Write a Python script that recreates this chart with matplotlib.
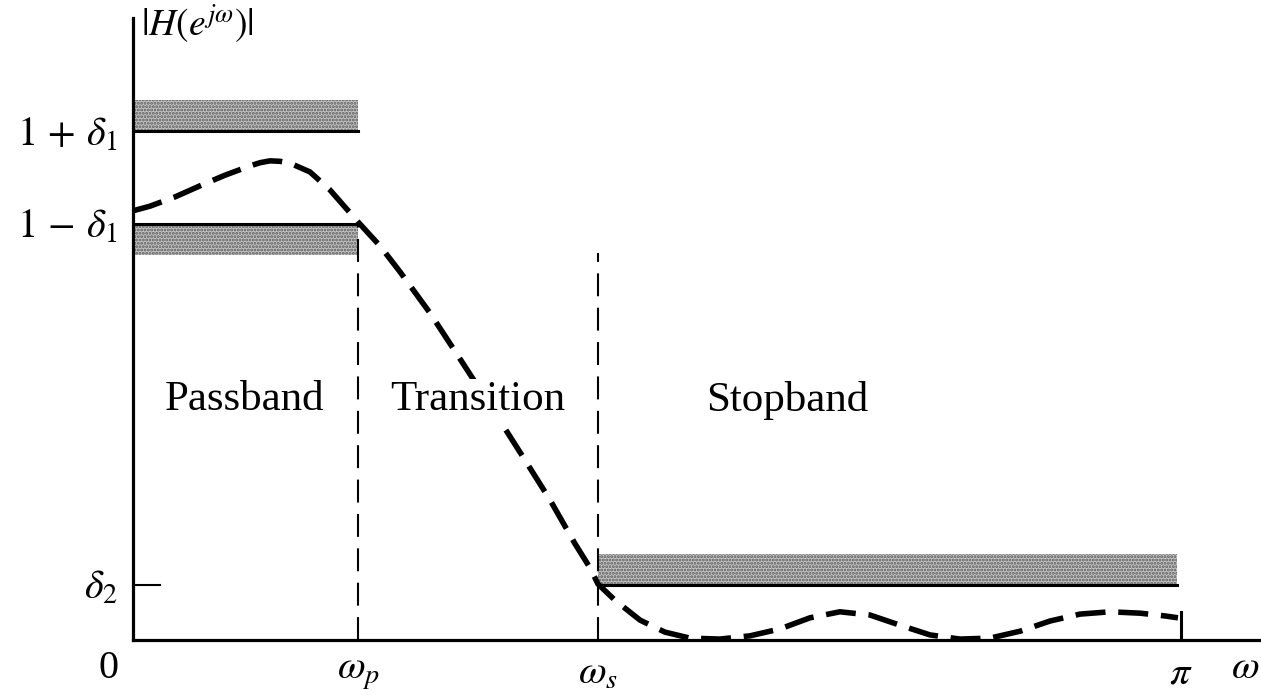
import numpy as np
import matplotlib
matplotlib.use("Agg")
import matplotlib.pyplot as plt

plt.rcParams['mathtext.fontset'] = 'stix'
plt.rcParams['font.family'] = ['Liberation Serif', 'DejaVu Serif']
plt.rcParams['hatch.linewidth'] = 1.4

# ---- data (frequencies in units of pi) ----
delta1 = 0.10
delta2 = 0.12
omega_p = 0.2147
omega_s = 0.4437
band_h = 0.067

w_curve = [0.0, 0.0162, 0.0401, 0.0639, 0.0878, 0.1116, 0.1212, 0.1307, 0.1403, 0.1498, 0.1689,
           0.1880, 0.2023, 0.2147, 0.2357, 0.2548, 0.2834, 0.3120, 0.3406, 0.3693,
           0.3979, 0.4218, 0.4361, 0.4437, 0.4599, 0.4838, 0.5076, 0.5315, 0.5601,
           0.5887, 0.6174, 0.6460, 0.6746, 0.7032, 0.7319, 0.7605, 0.7891, 0.8177,
           0.8464, 0.8750, 0.9036, 0.9323, 0.9609, 0.9847, 0.9971]
mag_curve = [0.928, 0.938, 0.958, 0.982, 1.005, 1.025, 1.032, 1.036, 1.035, 1.031, 1.012,
             0.973, 0.936, 0.904, 0.852, 0.796, 0.707, 0.608, 0.508, 0.406,
             0.303, 0.208, 0.156, 0.121, 0.086, 0.043, 0.017, 0.004, 0.002,
             0.009, 0.024, 0.048, 0.061, 0.054, 0.032, 0.011, 0.002, 0.004,
             0.019, 0.041, 0.056, 0.061, 0.058, 0.052, 0.048]

xtick_pos = [omega_p, omega_s, 1.0]
xtick_labels = [r'$\omega_p$', r'$\omega_s$', r'$\pi$']
ytick_pos = [delta2, 1 - delta1, 1 + delta1]
ytick_labels = [r'$\delta_2$', r'$1\,-\,\delta_1$', r'$1\,+\,\delta_1$']
region_labels = ['Passband', 'Transition', 'Stopband']

W, H = 1261, 695
fig = plt.figure(figsize=(W / 100, H / 100), dpi=100)
x0, y0, ytop = 133, 640, 18
ax = fig.add_axes([x0 / W, (H - y0) / H, (W - x0) / W, (y0 - ytop) / H])
px_per_x = 1048.0       # pixels per unit (pi)
px_per_y = 462.5
ax.set_xlim(0, (W - x0) / px_per_x)
ax.set_ylim(0, (y0 - ytop) / px_per_y)

for s in ['top', 'right']:
    ax.spines[s].set_visible(False)
for s in ['left', 'bottom']:
    ax.spines[s].set_linewidth(2.3)
    ax.spines[s].set_color('black')

# shaded tolerance bands
band_kw = dict(facecolor='#c4c4c4', edgecolor='#5a5a5a', hatch='.....', linewidth=0, zorder=1)
ax.fill_between([0, omega_p], 1 + delta1, 1 + delta1 + band_h, **band_kw)
ax.fill_between([0, omega_p], 1 - delta1 - band_h, 1 - delta1, **band_kw)
ax.fill_between([omega_s, 0.996], delta2, delta2 + band_h, **band_kw)

# spec lines
ax.plot([0, omega_p], [1 + delta1, 1 + delta1], color='black', lw=2.2, zorder=3)
ax.plot([0, omega_p], [1 - delta1, 1 - delta1], color='black', lw=2.2, zorder=3)
ax.plot([omega_s, 0.996], [delta2, delta2], color='black', lw=2.2, zorder=3)
# small delta2 tick
ax.plot([0, 27 / px_per_x], [delta2, delta2], color='black', lw=1.5, zorder=3)
# pi tick
ax.plot([1.0, 1.0], [0, mag_curve[-1] + 0.012], color='black', lw=2.2, zorder=3)

# vertical dashed boundaries
ax.plot([omega_p, omega_p], [0, 1 - delta1], color='black', lw=1.5,
        dashes=(11, 5.5), zorder=2)
ax.plot([omega_s, omega_s], [0, 0.837], color='black', lw=1.5,
        dashes=(11, 5.5), zorder=2)

# response curve
ax.plot(w_curve, mag_curve, color='black', lw=4.0, dashes=(5.4, 2.3),
        solid_capstyle='butt', dash_capstyle='butt', zorder=4)

# ticks
ax.set_xticks(xtick_pos)
ax.set_xticklabels(xtick_labels, fontsize=29)
ax.set_yticks(ytick_pos)
ax.set_yticklabels(ytick_labels, fontsize=29)
ax.tick_params(axis='both', length=0, pad=11)
ax.text(-24 / px_per_x, -28 / px_per_y, '0', fontsize=29, ha='center', va='center')
ax.text((1245 - x0) / px_per_x, -28 / px_per_y, r'$\omega$', fontsize=29,
        ha='center', va='center')

# y label
ax.text(8 / px_per_x, (y0 - 24) / px_per_y, r'$|H(e^{j\omega})|$', fontsize=27,
        ha='left', va='center')

# region labels
lbl_kw = dict(fontsize=31, ha='center', va='center', zorder=6,
              bbox=dict(facecolor='white', edgecolor='none', pad=1))
ax.text((245 - x0) / px_per_x, (y0 - 400) / px_per_y, region_labels[0], **lbl_kw)
ax.text((478 - x0) / px_per_x, (y0 - 400) / px_per_y, region_labels[1], **lbl_kw)
ax.text((787 - x0) / px_per_x, (y0 - 400) / px_per_y, region_labels[2], **lbl_kw)

fig.savefig('out.png', dpi=100)
